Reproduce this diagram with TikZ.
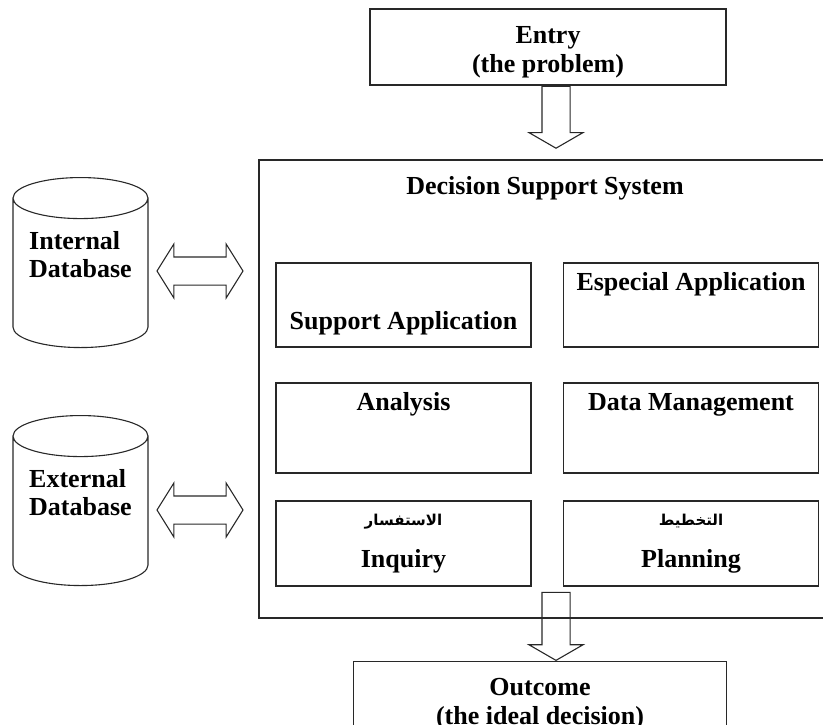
\documentclass[tikz,border=0pt]{standalone}
\usepackage{fontspec}
\setmainfont{Liberation Serif}
\newfontfamily\arabicfont[Script=Arabic]{DejaVu Sans}
\TeXXeTstate=1
\usepackage{tikz}
\usetikzlibrary{shapes.geometric,shapes.arrows,positioning,calc}

\begin{document}
\begin{tikzpicture}[x=1pt,y=-1pt,line cap=rect,
	box/.style={draw=custcol_edge, line width=1.3pt, rectangle, inner sep=0pt, align=center, font=\fontsize{26pt}{29pt}\bfseries\selectfont},
	txt/.style={inner sep=0pt, align=center, font=\fontsize{26pt}{29pt}\bfseries\selectfont},
	artxt/.style={inner sep=0pt, font=\fontsize{15pt}{18pt}\arabicfont\bfseries},
	dbase/.style={draw=custcol_edge, line width=1.1pt, cylinder, shape border rotate=90, aspect=0.4, minimum width=135pt, minimum height=170pt, inner sep=0pt, text depth=38pt, align=left, font=\fontsize{26pt}{28pt}\bfseries\selectfont},
	downlink/.style={draw=custcol_edge, line width=1.1pt, single arrow, shape border rotate=270, single arrow head extend=13pt, single arrow tip angle=120, inner sep=13.5pt},
	duallink/.style={draw=custcol_edge, line width=1.1pt, double arrow, double arrow head extend=13pt, double arrow tip angle=116, minimum height=86pt, inner sep=13.5pt}]
	\definecolor{custcol_edge}{RGB}{40, 40, 40}
	\clip (0,0) rectangle (823,724);
	\coordinate (flow) at (556,0);
	% top and bottom of the flow
	\node[box, minimum width=356pt, minimum height=76pt, text height=57pt] (entry) at (548,47) {Entry\\(the problem)};
	\node[box, minimum width=576pt, minimum height=458pt] (dss) at (547,389) {};
	\node[txt] (dsstitle) at (545,188) {Decision Support System};
	\node[box, anchor=north, minimum width=373pt, inner ysep=17pt] (outcome) at (540,661) {Outcome\\(the ideal decision)};
	% the six parts of the system
	\node[box, minimum width=255pt, minimum height=84pt] (support) at (403.5,305) {};
	\node[box, minimum width=255pt, minimum height=84pt] (especial) at (691,305) {};
	\node[box, minimum width=255pt, minimum height=90pt] (analysis) at (403.5,428) {};
	\node[box, minimum width=255pt, minimum height=90pt] (datamgmt) at (691,428) {};
	\node[box, minimum width=255pt, minimum height=85pt] (inquiry) at (403.5,543.5) {};
	\node[box, minimum width=255pt, minimum height=85pt] (planning) at (691,543.5) {};
	\node[txt] at ([yshift=24]support.south) {Support Application};
	\node[txt] at ([yshift=-22]especial.north) {Especial Application};
	\node[txt] at ([yshift=-22]analysis.north) {Analysis};
	\node[txt] at ([yshift=-22]datamgmt.north) {Data Management};
	\node[artxt] at ([yshift=-21]inquiry.north) {\beginR الاستفسار\endR};
	\node[txt] at ([yshift=25]inquiry.south) {Inquiry};
	\node[artxt] at ([yshift=-21]planning.north) {\beginR التخطيط\endR};
	\node[txt] at ([yshift=25]planning.south) {Planning};
	% databases
	\node[dbase, anchor=north] (intdb) at (80.5,177) {Internal\\Database};
	\node[dbase, anchor=north] (extdb) at (80.5,415) {External\\Database};
	\node[duallink] (intlink) at (200,271) {};
	\node[duallink] (extlink) at (200,510) {};
	\node[downlink, minimum height=62pt, anchor=tail] (inlink) at (entry.south -| flow) {};
	\node[downlink, minimum height=68pt, anchor=tip] (outlink) at (outcome.north -| flow) {};
\end{tikzpicture}
\end{document}
